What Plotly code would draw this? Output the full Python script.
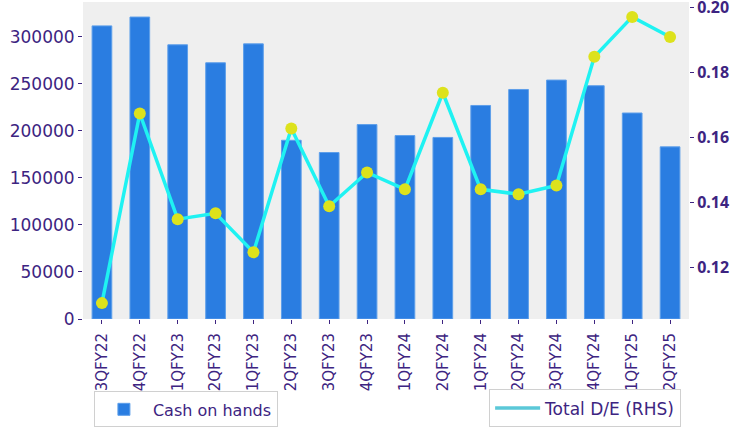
import plotly.graph_objects as go

quarters = ["3QFY22", "4QFY22", "1QFY23", "2QFY23", "1QFY23", "2QFY23", "3QFY23", "4QFY23",
            "1QFY24", "2QFY24", "1QFY24", "2QFY24", "3QFY24", "4QFY24", "1QFY25", "2QFY25"]
cash_on_hands = [311600, 321000, 291500, 272400, 292500, 190000, 177000, 206700,
                 195000, 193000, 227000, 244000, 254000, 248000, 219000, 183000]
total_de = [0.1089, 0.1674, 0.1348, 0.1366, 0.1246, 0.1628, 0.1388, 0.1492,
            0.1440, 0.1738, 0.1440, 0.1425, 0.1452, 0.1849, 0.1972, 0.1910]
left_ticks = [0, 50000, 100000, 150000, 200000, 250000, 300000]
right_ticks = [0.12, 0.14, 0.16, 0.18, 0.20]

idx = list(range(len(quarters)))
PURPLE = "#3d2481"
FONT = "DejaVu Sans"

fig = go.Figure()
fig.add_trace(go.Bar(
    x=idx, y=cash_on_hands, name="Cash on hands",
    marker=dict(color="#2a7de1", line=dict(color="#5e9fea", width=1)),
    width=0.52, legend="legend", yaxis="y",
))
fig.add_trace(go.Scatter(
    x=idx, y=total_de, mode="lines+markers", name="Total D/E (RHS)",
    line=dict(color="#1ff2f2", width=3.5),
    marker=dict(color="#dde21c", size=12),
    yaxis="y2", showlegend=False,
))
fig.add_trace(go.Scatter(
    x=[None], y=[None], mode="lines", name="Total D/E (RHS)",
    line=dict(color="#5bc8d8", width=3.5), yaxis="y2", legend="legend2",
))

fig.update_layout(
    width=730, height=430,
    margin=dict(l=83, r=41, t=2, b=111),
    paper_bgcolor="white", plot_bgcolor="#efefef",
    font=dict(family=FONT, color=PURPLE, size=16),
    xaxis=dict(
        tickmode="array", tickvals=idx, ticktext=quarters, tickangle=-90,
        range=[-0.5, len(quarters) - 0.5], showgrid=False, zeroline=False,
        ticks="outside", ticklen=4, tickcolor=PURPLE, automargin=False,
        ticklabelstandoff=3,
        tickfont=dict(family=FONT, size=15, color=PURPLE),
    ),
    yaxis=dict(
        range=[0, 337000], tickmode="array", tickvals=left_ticks,
        ticktext=[str(v) for v in left_ticks], showgrid=False, zeroline=False,
        ticks="outside", ticklen=4, tickcolor=PURPLE, automargin=False,
        tickfont=dict(family=FONT, size=17, color=PURPLE),
    ),
    yaxis2=dict(
        range=[0.104, 0.2018], overlaying="y", side="right", tickmode="array",
        tickvals=right_ticks, ticktext=[f"{v:.2f}" for v in right_ticks],
        showgrid=False, zeroline=False, ticks="outside", ticklen=4, tickcolor=PURPLE,
        automargin=False, ticklabeloverflow="allow",
        tickfont=dict(family="Noto Sans", size=16, color=PURPLE, weight="bold"),
    ),
    legend=dict(
        x=0.018, y=-0.342, xanchor="left", yanchor="bottom", itemwidth=48,
        bgcolor="white", bordercolor="#d0d0d0", borderwidth=1,
        font=dict(family=FONT, size=16, color=PURPLE),
    ),
    legend2=dict(
        x=0.987, y=-0.342, xanchor="right", yanchor="bottom", itemwidth=45,
        bgcolor="white", bordercolor="#d0d0d0", borderwidth=1,
        font=dict(family=FONT, size=17, color=PURPLE),
    ),
)

fig.write_html(
    "out.html",
    config={"displayModeBar": False},
    post_script="document.body.style.margin='0';document.body.style.overflow='hidden';",
)
